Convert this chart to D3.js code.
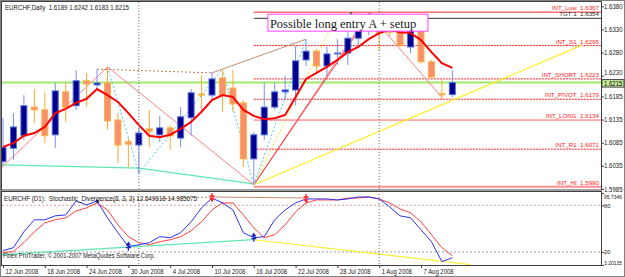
<!DOCTYPE html>
<html>
<head>
<meta charset="utf-8">
<script src="https://cdn.jsdelivr.net/npm/d3@7"></script>
<style>
body { margin: 0; background: #fff; }
svg text { font-family: "Liberation Sans", Arial, sans-serif; }
</style>
</head>
<body>
<script>
// bars, one per trading day
var dates = ["2008-06-12","2008-06-13","2008-06-16","2008-06-17","2008-06-18","2008-06-19","2008-06-20",
  "2008-06-23","2008-06-24","2008-06-25","2008-06-26","2008-06-27","2008-06-30","2008-07-01","2008-07-02",
  "2008-07-03","2008-07-04","2008-07-07","2008-07-08","2008-07-09","2008-07-10","2008-07-11","2008-07-14",
  "2008-07-15","2008-07-16","2008-07-17","2008-07-18","2008-07-21","2008-07-22","2008-07-23","2008-07-24",
  "2008-07-25","2008-07-28","2008-07-29","2008-07-30","2008-07-31","2008-08-01","2008-08-04","2008-08-05",
  "2008-08-06","2008-08-07","2008-08-08","2008-08-11","2008-08-12"];

var opens  = [1.6044,1.6073,1.6100,1.6162,1.6156,1.6102,1.6195,1.6165,1.6219,1.6210,1.6214,1.6134,1.6087,1.6080,
  1.6115,1.6102,1.6117,1.6095,1.6139,1.6190,1.6188,1.6225,1.6203,1.6171,1.6050,1.6102,1.6162,1.6195,1.6199,
  1.6264,1.6283,1.6251,1.6277,1.6279,1.6311,1.6333,1.6333,1.6333,1.6324,1.6292,1.6327,1.6260,1.6191,1.6189];
var highs  = [1.6138,1.6149,1.6188,1.6201,1.6193,1.6214,1.6214,1.6242,1.6236,1.6244,1.6249,1.6149,1.6095,1.6119,
  1.6156,1.6143,1.6123,1.6162,1.6201,1.6231,1.6238,1.6244,1.6242,1.6177,1.6108,1.6214,1.6214,1.6229,1.6294,
  1.6309,1.6288,1.6292,1.6309,1.6324,1.6344,1.6366,1.6340,1.6342,1.6329,1.6331,1.6329,1.6264,1.6221,1.6242];
var lows   = [1.6037,1.6048,1.6091,1.6128,1.6084,1.6073,1.6130,1.6156,1.6162,1.6203,1.6113,1.6041,1.6032,1.6019,
  1.6075,1.6087,1.6069,1.6075,1.6100,1.6156,1.6177,1.6151,1.6151,1.6032,1.5994,1.6091,1.6156,1.6177,1.6166,
  1.6251,1.6234,1.6229,1.6253,1.6253,1.6296,1.6318,1.6285,1.6316,1.6292,1.6279,1.6257,1.6225,1.6177,1.6183];
var closes = [1.6075,1.6119,1.6165,1.6156,1.6100,1.6197,1.6162,1.6219,1.6212,1.6214,1.6132,1.6080,1.6082,1.6106,
  1.6110,1.6117,1.6100,1.6141,1.6193,1.6188,1.6223,1.6188,1.6169,1.6050,1.6102,1.6162,1.6195,1.6199,1.6262,
  1.6283,1.6251,1.6277,1.6279,1.6311,1.6333,1.6344,1.6322,1.6324,1.6296,1.6327,1.6260,1.6227,1.6189,1.6215];
// red moving average
var maValues = [1.6076,1.6084,1.6100,1.6106,1.6119,1.6149,1.6158,1.6171,1.6180,1.6201,1.6188,1.6173,1.6149,1.6123,
  1.6100,1.6097,1.6102,1.6115,1.6130,1.6152,1.6177,1.6188,1.6184,1.6156,1.6143,1.6136,1.6138,1.6145,1.6184,
  1.6223,1.6236,1.6249,1.6264,1.6281,1.6292,1.6309,1.6322,1.6329,1.6324,1.6322,1.6307,1.6281,1.6257,1.6247];

// stochastic (8,3,3)
var stochMain = [21.7,25.5,45.9,61.3,61.3,66.4,67.6,85.5,80.4,85.5,63.8,44.7,26.8,29.3,31.9,39.6,38.3,44.7,58.7,
  76.6,89.3,83.0,74.0,44.7,38.3,39.6,61.3,74.0,83.0,88.1,88.1,88.1,86.8,88.1,90.6,90.6,88.1,77.9,66.4,63.8,48.5,
  33.2,7.5,12.55];
var stochSignal = [19.1,20.4,31.9,45.9,57.4,61.3,63.8,72.7,76.6,83.0,74.0,54.8,39.6,31.9,29.3,33.2,35.7,39.6,47.2,
  58.7,74.0,83.0,83.0,67.6,51.0,38.3,42.1,54.8,71.5,83.0,86.8,86.8,86.8,89.3,89.3,90.6,88.1,83.0,75.3,70.2,58.7,
  42.1,25.5,14.99];

// horizontal levels
var levelNames  = ["INT_Low","TGT 1","INT_S1","INT_SHORT","INT_PIVOT","INT_LONG","INT_R1","INT_HI"];
var levelValues = [1.6367,1.6354,1.6295,1.6223,1.6179,1.6134,1.6071,1.5990];
var levelStart = 24;

var priceTicks = [1.6380,1.6330,1.6280,1.6230,1.6185,1.6135,1.6085,1.6035,1.5985];
var stochTicks = [95.7346,80,20,3.20135];
var stochTickLabels = ["95.7346","80","20","3.20135"];
var timeTicks = [0,4,8,12,16,20,24,28,32,36,40];
var monthStarts = [13,36];
var bidPrice = 1.6215;

// trend lines as [bar, price]
var salmonZig = [[-0.1,1.6032],[10,1.6249],[24,1.5994],[35,1.6366],[42,1.6183]];
var cyanZig   = [[10,1.6249],[13,1.6019],[21,1.6244],[24,1.5994],[29,1.6309]];
var redRay    = [[24,1.5994],[35.2,1.6366]];
var brownDot  = [[9,1.6244],[20,1.6236]];
var brownLine = [[20,1.6236],[29,1.6309]];
var yellowDot = [[24,1.5994],[32.05,1.6366]];
var yellowLine = [[24,1.5994],[55.4,1.6296]];
var mintLine  = [[-0.1,1.6037],[13,1.6030],[24,1.5996]];
// indicator trend lines as [bar, value]
var stBrownDot  = [[9,85.5],[20,90.6]];
var stBrownLine = [[20,90.6],[29,89.3]];
var stMint      = [[-0.1,16.6],[24,35.7]];
var stYellow    = [[24,35.7],[44.7,3.8]];
var downMarks = [[20,90.6],[29,89.3]];
var upMarks   = [[12,26.8],[24,38.3]];

var W = 625, H = 277;
var left = 2, right = 601, top1 = 2, bot1 = 189.5, top2 = 192, bot2 = 265;

var svg = d3.select("body").append("svg").attr("width", W).attr("height", H);

var x = d3.scaleLinear().domain([0, 43]).range([3, 452.35]);
var y = d3.scaleLinear().domain([1.59838, 1.63893]).range([bot1, top1]);
var ys = d3.scaleLinear().domain([3.20135, 95.7346]).range([bot2, top2 + 1]);
var parse = d3.timeParse("%Y-%m-%d"), fmt = d3.timeFormat("%-d %b %Y");

// squeeze text to look like the narrow terminal font
function condense(sel, k) {
  sel.each(function() {
    var len = this.getComputedTextLength();
    d3.select(this).attr("textLength", len * k).attr("lengthAdjust", "spacingAndGlyphs");
  });
}

var defs = svg.append("defs");
defs.append("clipPath").attr("id", "c1").append("rect")
  .attr("x", left).attr("y", top1).attr("width", right - left).attr("height", bot1 - top1);
defs.append("clipPath").attr("id", "c2").append("rect")
  .attr("x", left).attr("y", top2).attr("width", right - left).attr("height", bot2 - top2);

// frame
svg.append("rect").attr("x", 0.5).attr("y", 0.5).attr("width", W - 1).attr("height", H - 1)
  .attr("fill", "#fff").attr("stroke", "#808080");

var main = svg.append("g").attr("clip-path", "url(#c1)");
var ind = svg.append("g").attr("clip-path", "url(#c2)");

var line = d3.line().x(function(d) { return x(d[0]); }).y(function(d) { return y(d[1]); });
var sline = d3.line().x(function(d) { return x(d[0]); }).y(function(d) { return ys(d[1]); });

// month separators
monthStarts.forEach(function(i) {
  svg.append("line").attr("x1", x(i)).attr("x2", x(i)).attr("y1", top1).attr("y2", bot2)
    .attr("stroke", "#707070").attr("stroke-dasharray", "1,2");
});

// levels
var levelStyle = [
  {c: "#ff7070", w: 1.5, d: null}, {c: "#303030", w: 1, d: null}, {c: "#ff2020", w: 1, d: "2,1"},
  {c: "#ff2020", w: 1, d: "2,1"}, {c: "#ff2020", w: 1, d: "2,1"}, {c: "#ff6060", w: 1, d: null},
  {c: "#ff2020", w: 1, d: "2,1"}, {c: "#ff9090", w: 2, d: null}];
levelValues.forEach(function(v, i) {
  var s = levelStyle[i];
  main.append("line").attr("x1", x(levelStart)).attr("x2", right).attr("y1", y(v)).attr("y2", y(v))
    .attr("stroke", s.c).attr("stroke-width", s.w).attr("stroke-dasharray", s.d);
  main.append("text").attr("class", "lvl").attr("x", right - 2).attr("y", y(v) - 2).attr("text-anchor", "end")
    .attr("font-size", 6.2).attr("fill", i == 1 ? "#303030" : "#ff2020")
    .text(levelNames[i] + "\u00a0\u00a0" + v.toFixed(4));
});

// bid line
main.append("line").attr("x1", left).attr("x2", right).attr("y1", y(bidPrice)).attr("y2", y(bidPrice))
  .attr("stroke", "#9ee86a").attr("stroke-width", 2);

// text box
var bx = x(25.35), by = y(1.6363);
svg.append("rect").attr("x", bx).attr("y", by).attr("width", 160).attr("height", 17)
  .attr("fill", "#fff").attr("stroke", "#ff40ff");
svg.append("text").attr("x", bx + 2).attr("y", by + 13.5).attr("font-size", 12.5)
  .style("font-family", "'Liberation Serif', 'Times New Roman', serif").attr("fill", "#202020")
  .text("Possible long entry A + setup");

// trend lines
main.append("path").datum(mintLine).attr("d", line).attr("fill", "none").attr("stroke", "#60e8b0").attr("stroke-width", 1.2);
main.append("path").datum(salmonZig).attr("d", line).attr("fill", "none").attr("stroke", "#ff8080");
main.append("path").datum(redRay).attr("d", line).attr("fill", "none").attr("stroke", "#ff3030");
main.append("path").datum(yellowLine).attr("d", line).attr("fill", "none").attr("stroke", "#ffee30").attr("stroke-width", 1.2);
main.append("path").datum(yellowDot).attr("d", line).attr("fill", "none").attr("stroke", "#ffe030").attr("stroke-dasharray", "2,2");
main.append("path").datum(cyanZig).attr("d", line).attr("fill", "none").attr("stroke", "#50c8f0").attr("stroke-dasharray", "2,2");
main.append("path").datum(brownDot).attr("d", line).attr("fill", "none").attr("stroke", "#c08050").attr("stroke-dasharray", "2,2");
main.append("path").datum(brownLine).attr("d", line).attr("fill", "none").attr("stroke", "#c09070");

// candles
var idx = d3.range(dates.length);
main.selectAll("line.wick").data(idx).join("line").attr("class", "wick")
  .attr("x1", function(i) { return x(i); }).attr("x2", function(i) { return x(i); })
  .attr("y1", function(i) { return y(highs[i]); }).attr("y2", function(i) { return y(lows[i]); })
  .attr("stroke", function(i) { return closes[i] >= opens[i] ? "#7890f0" : "#ffa830"; });
main.selectAll("rect.body").data(idx).join("rect").attr("class", "body")
  .attr("x", function(i) { return x(i) - 3; }).attr("width", 6)
  .attr("y", function(i) { return y(Math.max(opens[i], closes[i])); })
  .attr("height", function(i) { return Math.max(1, Math.abs(y(opens[i]) - y(closes[i]))); })
  .attr("fill", function(i) { return closes[i] >= opens[i] ? "#00008c" : "#f8906e"; })
  .attr("stroke", function(i) { return closes[i] >= opens[i] ? "#5070e0" : "#ffb040"; });

// moving average
main.append("path").datum(maValues.map(function(v, i) { return [i, v]; })).attr("d", line)
  .attr("fill", "none").attr("stroke", "#ff0000").attr("stroke-width", 2);

main.append("circle").attr("cx", x(33.3)).attr("cy", y(1.6365)).attr("r", 1.2).attr("fill", "#108010");

// indicator panel
[80, 20].forEach(function(v) {
  ind.append("line").attr("x1", left).attr("x2", right).attr("y1", ys(v)).attr("y2", ys(v))
    .attr("stroke", v == 80 ? "#e0a0a0" : "#a0a0a0").attr("stroke-dasharray", "2,2");
});
ind.append("path").datum(stMint).attr("d", sline).attr("fill", "none").attr("stroke", "#60e8b0").attr("stroke-width", 1.2);
ind.append("path").datum(stYellow).attr("d", sline).attr("fill", "none").attr("stroke", "#ffee30").attr("stroke-width", 1.2);
ind.append("path").datum(stBrownDot).attr("d", sline).attr("fill", "none").attr("stroke", "#c08050").attr("stroke-dasharray", "2,2");
ind.append("path").datum(stBrownLine).attr("d", sline).attr("fill", "none").attr("stroke", "#c09070");
ind.append("path").datum(stochSignal.map(function(v, i) { return [i, v]; })).attr("d", sline)
  .attr("fill", "none").attr("stroke", "#ff4040");
ind.append("path").datum(stochMain.map(function(v, i) { return [i, v]; })).attr("d", sline)
  .attr("fill", "none").attr("stroke", "#3030f0");
downMarks.forEach(function(m) {
  ind.append("path").attr("transform", "translate(" + x(m[0]) + "," + ys(m[1]) + ")")
    .attr("d", "M0,-4V3M-2.5,-1H2.5M-2,1L0,4L2,1").attr("fill", "none").attr("stroke", "#ff2020").attr("stroke-width", 1.3);
});
upMarks.forEach(function(m) {
  ind.append("path").attr("transform", "translate(" + x(m[0]) + "," + ys(m[1]) + ")")
    .attr("d", "M0,4V-3M-2.5,1H2.5M-2,-1L0,-4L2,-1").attr("fill", "none").attr("stroke", "#2020c0").attr("stroke-width", 1.3);
});
ind.append("circle").attr("cx", x(9)).attr("cy", ys(85.5)).attr("r", 1.5).attr("fill", "#202090");

// panel borders
svg.append("rect").attr("x", left - 0.5).attr("y", top1 - 0.5).attr("width", right - left + 1).attr("height", bot1 - top1 + 1)
  .attr("fill", "none").attr("stroke", "#404040");
svg.append("rect").attr("x", left - 0.5).attr("y", top2 - 0.5).attr("width", right - left + 1).attr("height", bot2 - top2 + 1)
  .attr("fill", "none").attr("stroke", "#404040");

// axes
var pAxis = svg.append("g").attr("transform", "translate(" + right + ",0)")
  .call(d3.axisRight(y).tickValues(priceTicks).tickSize(3).tickFormat(d3.format(".4f")));
var sAxis = svg.append("g").attr("transform", "translate(" + right + ",0)")
  .call(d3.axisRight(ys).tickValues(stochTicks).tickSize(3).tickFormat(function(d, i) { return stochTickLabels[i]; }));
sAxis.selectAll(".tick text").attr("dy", function(d, i) { return i == 0 ? "0.9em" : (i == 3 ? "-0.1em" : "0.32em"); });
var tAxis = svg.append("g").attr("transform", "translate(0," + bot2 + ")")
  .call(d3.axisBottom(x).tickValues(timeTicks).tickSize(3).tickFormat(function(i) { return fmt(parse(dates[i])); }));
tAxis.selectAll(".tick text").attr("text-anchor", "start").attr("dx", 2).attr("y", 4);
[pAxis, sAxis, tAxis].forEach(function(g) {
  g.select(".domain").remove();
  g.selectAll("text").attr("font-size", 7).attr("fill", "#202020").style("font-family", "'Liberation Sans', Arial, sans-serif");
  g.selectAll("line").attr("stroke", "#404040");
});
pAxis.selectAll(".tick text").attr("x", 3).attr("font-size", 6.6)
  .attr("dy", function(d) { return d == 1.6230 ? "-0.15em" : "0.32em"; });
sAxis.selectAll(".tick text").attr("x", 3).attr("font-size", 6.2);
condense(pAxis.selectAll(".tick text"), 0.92);
condense(tAxis.selectAll(".tick text"), 0.85);
sAxis.selectAll(".tick text").each(function() {
  var len = this.getComputedTextLength();
  d3.select(this).attr("textLength", Math.min(len * 0.92, 18)).attr("lengthAdjust", "spacingAndGlyphs");
});

// bid price box
svg.append("rect").attr("x", right + 1).attr("y", y(bidPrice) - 3).attr("width", 22).attr("height", 7.5)
  .attr("fill", "#c8f0a0").attr("stroke", "#404040");
var bidText = svg.append("text").attr("x", right + 3).attr("y", y(bidPrice) + 3).attr("font-size", 6.3).attr("fill", "#000")
  .text(bidPrice.toFixed(4));
condense(bidText, 0.95);

// captions
svg.append("text").attr("x", 5).attr("y", 9.5).attr("font-size", 7).attr("fill", "#202020")
  .text("EURCHF,Daily\u00a0\u00a0" + [opens[43], highs[43], lows[43], closes[43]].map(function(v) { return v.toFixed(4); }).join(" "))
  .attr("textLength", 124).attr("lengthAdjust", "spacingAndGlyphs");
svg.append("text").attr("x", 4).attr("y", 201).attr("font-size", 7).attr("fill", "#202020")
  .text("EURCHF (D1):\u00a0\u00a0Stochastic_Divergence(8, 3, 3) 12.549618 14.985675")
  .attr("textLength", 193).attr("lengthAdjust", "spacingAndGlyphs");
svg.append("text").attr("x", 3).attr("y", 258).attr("font-size", 7).attr("fill", "#202020")
  .text("Finex ProTrader, \u00a9 2001-2007 MetaQuotes Software Corp.")
  .attr("textLength", 152).attr("lengthAdjust", "spacingAndGlyphs");
</script>
</body>
</html>
